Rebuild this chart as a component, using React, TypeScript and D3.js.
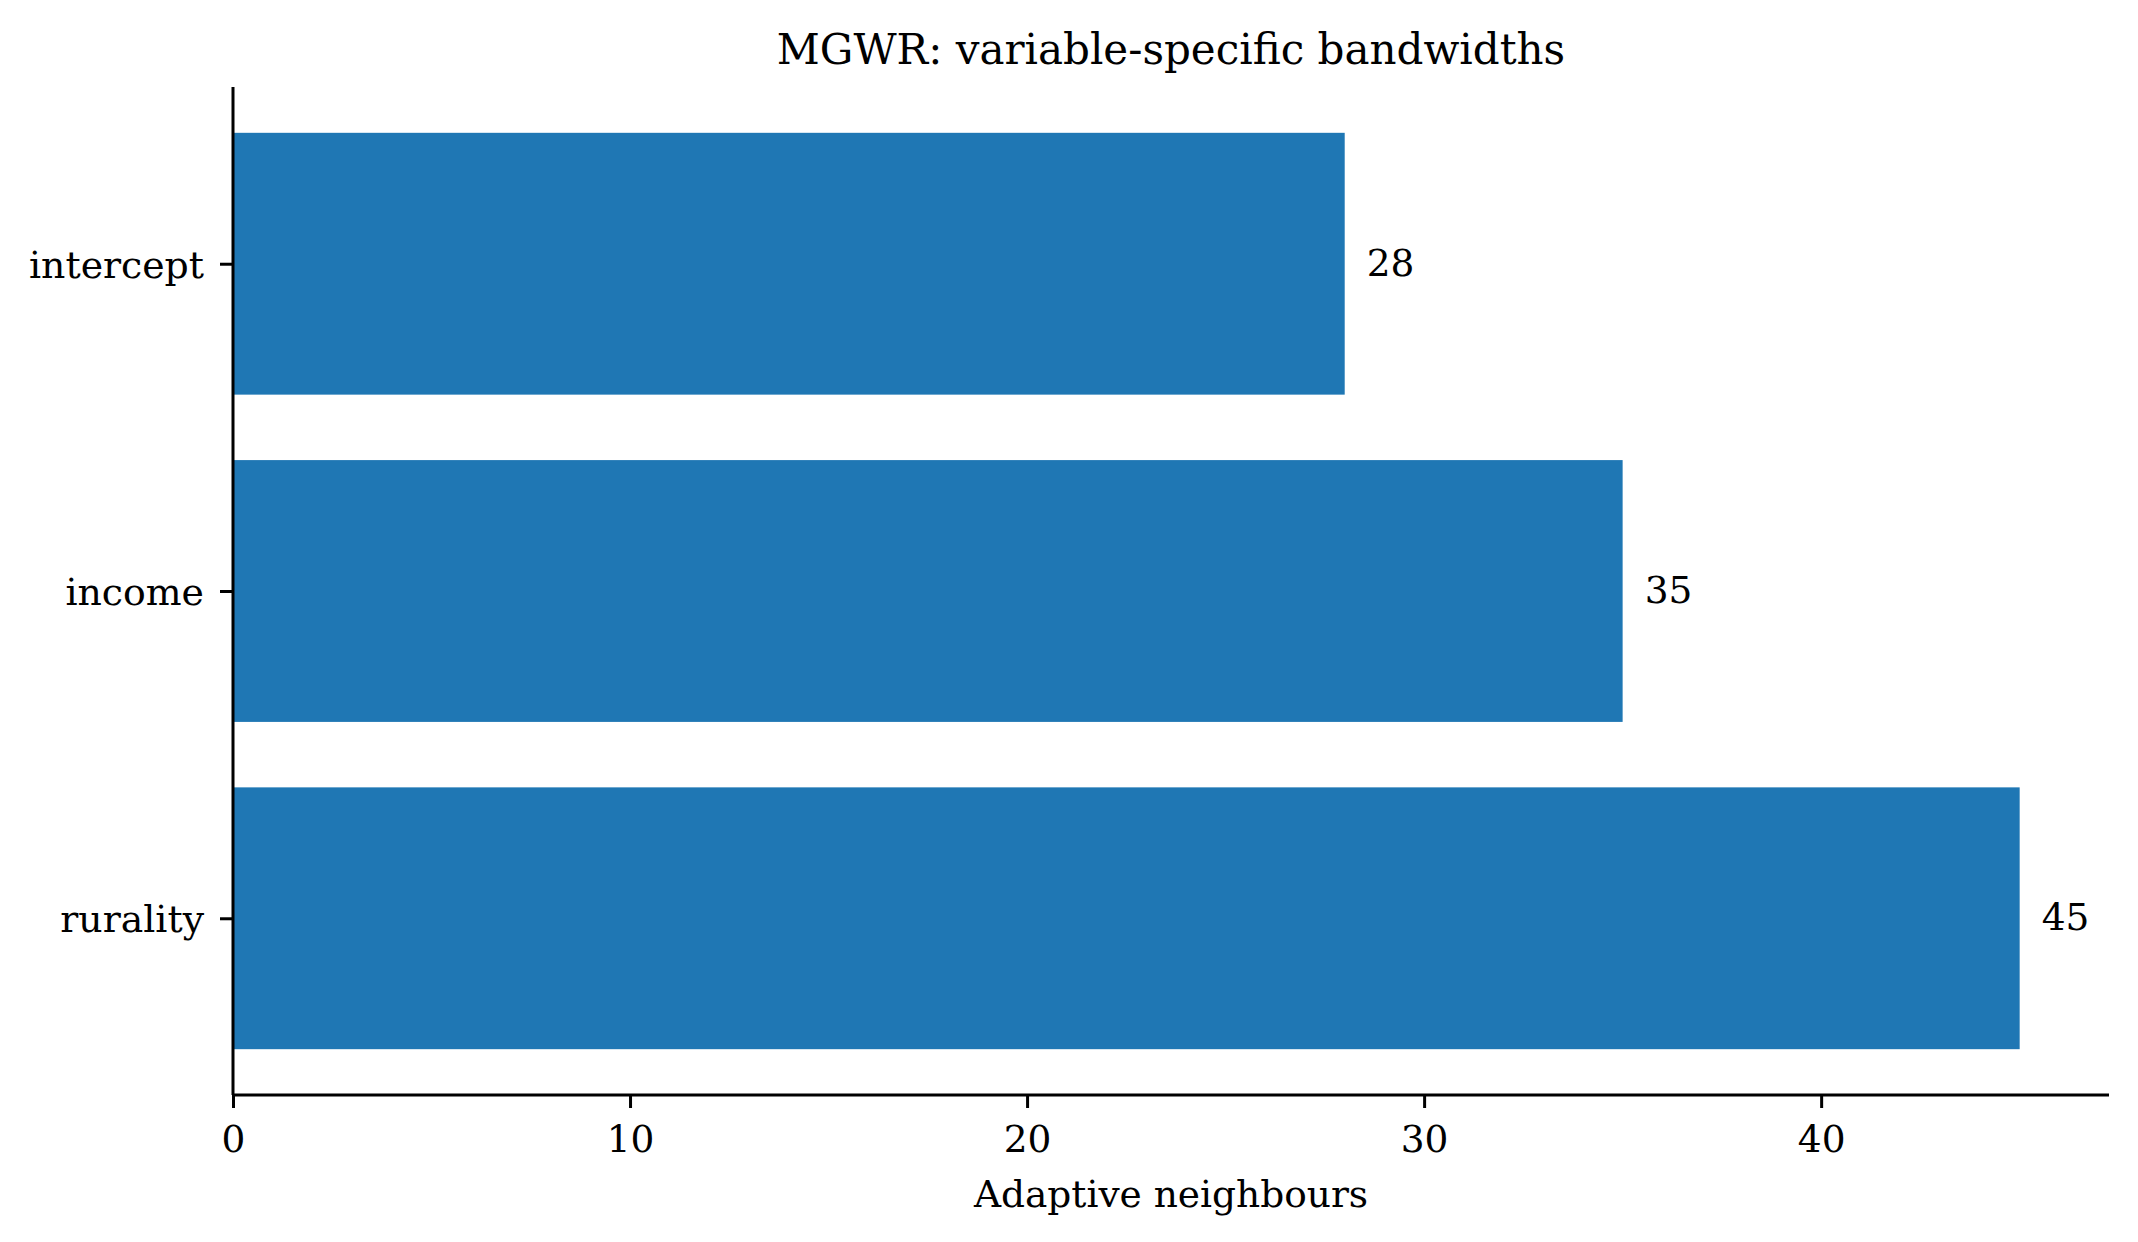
import { useEffect, useRef } from "react"
import * as d3 from "d3"

const categories = ["intercept", "income", "rurality"]
const bandwidths = [28, 35, 45]
const xTicks = [0, 10, 20, 30, 40]
const title = "MGWR: variable-specific bandwidths"
const xLabel = "Adaptive neighbours"

const W = 2138
const H = 1242
const FONT = "'DejaVu Serif', serif"

export default function App() {
  const ref = useRef<SVGSVGElement>(null)
  useEffect(() => {
    document.body.style.margin = "0"
    if (!ref.current) return
    const m = { top: 87, right: 29, bottom: 147, left: 233 }
    const iw = W - m.left - m.right
    const ih = H - m.top - m.bottom
    d3.select(ref.current).selectAll("*").remove()
    const svg = d3.select(ref.current).append("g").attr("transform", `translate(${m.left},${m.top})`)

    const xMax = d3.max(bandwidths)! * 1.05
    const x = d3.scaleLinear().domain([0, xMax]).range([0, iw])
    // matplotlib-style: bar height 0.8, 5% margins on the data range
    const n = categories.length
    const lo = -0.4 - 0.05 * (n - 0.2), hi = n - 1 + 0.4 + 0.05 * (n - 0.2)
    const y = d3.scaleLinear().domain([lo, hi]).range([0, ih])

    svg.selectAll("rect.bar").data(bandwidths).join("rect")
      .attr("class", "bar")
      .attr("x", x(0)).attr("y", (_, i) => y(i - 0.4))
      .attr("width", d => x(d) - x(0)).attr("height", y(0.4) - y(-0.4))
      .attr("fill", "#1f77b4")

    svg.selectAll("text.val").data(bandwidths).join("text")
      .attr("class", "val")
      .attr("x", d => x(d) + 22).attr("y", (_, i) => y(i) + 12)
      .style("font-family", FONT).style("font-size", "37.5px").style("fill", "#000")
      .text(d => String(d))

    const xa = svg.append("g").attr("transform", `translate(0,${ih})`)
      .call(d3.axisBottom(x).tickValues(xTicks).tickFormat(d3.format("d")).tickSize(13).tickPadding(17))
    xa.select(".domain").attr("stroke", "#000").attr("stroke-width", 3).attr("d", `M0,0H${iw}`)
    xa.selectAll(".tick line").attr("stroke", "#000").attr("stroke-width", 3)
    xa.selectAll("text").style("font-family", FONT).style("font-size", "37.5px").style("fill", "#000")

    const ya = svg.append("g")
      .call(d3.axisLeft(y).tickValues(d3.range(n)).tickFormat((_, i) => categories[i]).tickSize(13).tickPadding(16))
    ya.select(".domain").attr("stroke", "#000").attr("stroke-width", 3).attr("d", `M0,0V${ih}`)
    ya.selectAll(".tick line").attr("stroke", "#000").attr("stroke-width", 3)
    ya.selectAll("text").attr("dy", null).attr("y", 13.5)
      .style("font-family", FONT).style("font-size", "37.8px").style("fill", "#000")

    svg.append("text").attr("x", iw / 2).attr("y", 1207 - m.top).attr("text-anchor", "middle")
      .style("font-family", FONT).style("font-size", "37.5px").style("fill", "#000").text(xLabel)

    svg.append("text").attr("x", iw / 2).attr("y", 64 - m.top).attr("text-anchor", "middle")
      .style("font-family", FONT).style("font-size", "42px").style("fill", "#000").text(title)
  }, [])
  return <svg ref={ref} width={W} height={H} style={{ display: "block", background: "#fff" }} />
}
